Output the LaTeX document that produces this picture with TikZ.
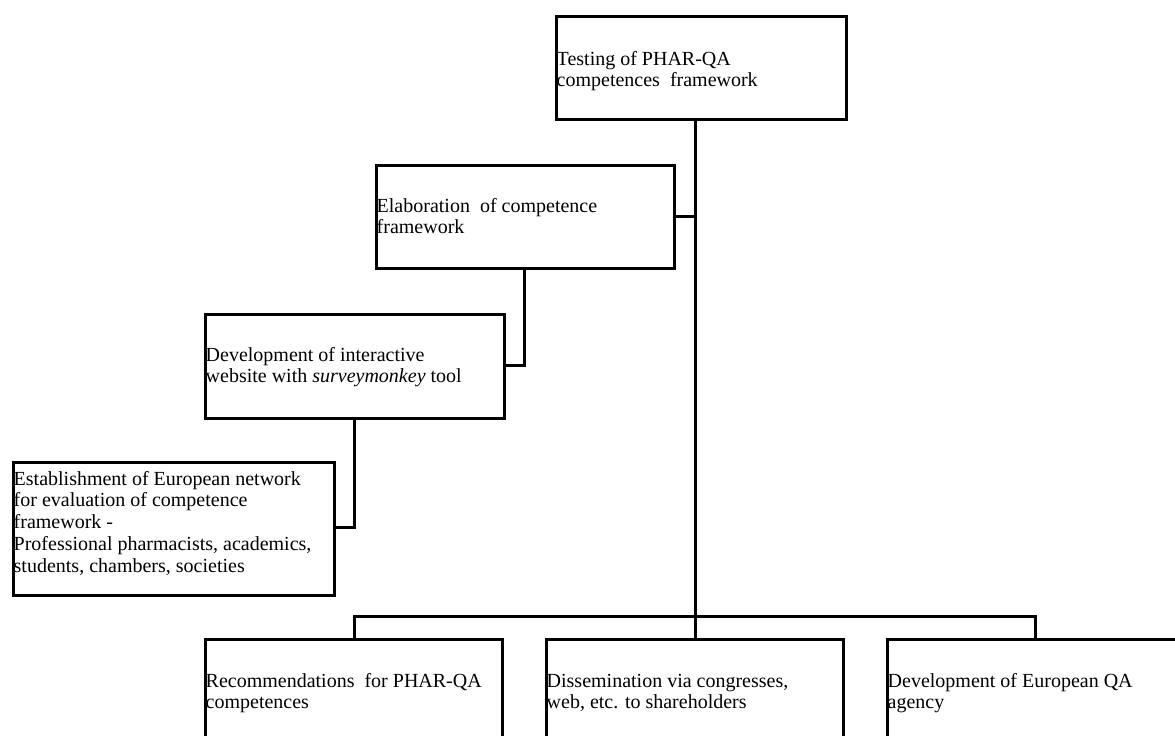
\documentclass[tikz,border=0pt]{standalone}
\usepackage{fontspec}
\setmainfont{Liberation Serif}
\begin{document}
\begin{tikzpicture}[x=1pt,y=-1pt,
  box/.style={draw=black, line width=2.8pt, rectangle, inner sep=0pt, anchor=north west},
  txt/.style={anchor=north west, inner sep=0pt, align=left, font=\fontsize{20}{21.5}\selectfont},
  linkline/.style={line width=3pt, draw=black}]
\path[use as bounding box] (0,0) rectangle (1175,736);
\clip (0,0) rectangle (1175,736);
% boxes
\node[box, minimum width=290pt, minimum height=103pt] (top) at (555,15) {};
\node[box, minimum width=298pt, minimum height=103pt] (elab) at (375,164) {};
\node[box, minimum width=299pt, minimum height=104pt] (dev) at (204,313) {};
\node[box, minimum width=321pt, minimum height=133pt] (est) at (12,461) {};
\node[box, minimum width=297pt, minimum height=130pt] (rec) at (204,638) {};
\node[box, minimum width=297pt, minimum height=130pt] (diss) at (545,638) {};
\node[box, minimum width=297pt, minimum height=130pt] (agency) at (886,638) {};
% texts
\node[txt] (topT) at (556.5,50) {\strut Testing of PHAR-QA\\competences\ \ framework};
\node[txt] (elabT) at (376.5,197) {\strut Elaboration\ \ of competence\\framework};
\node[txt] (devT) at (205.5,346) {\strut Development of interactive\\website with \textit{surveymonkey} tool};
\node[txt] (estT) at (13.5,470) {\strut Establishment of European network\\for evaluation of competence\\framework -\\[1pt]Professional pharmacists, academics,\\students, chambers, societies};
\node[txt] (recT) at (205.5,672) {\strut Recommendations\ \ for PHAR-QA\\competences};
\node[txt] (dissT) at (546.5,672) {\strut Dissemination via congresses,\\web, etc. to shareholders};
\node[txt] (agencyT) at (887.5,672) {\strut Development of European QA\\agency};
% connectors
\coordinate (hub) at (695,616);
\coordinate (j1) at (524,365);
\coordinate (j2) at (354,527);
\draw[linkline] (top.south -| hub) -- (hub);
\draw[linkline] (elab.east |- 0,216) -- (hub |- 0,216);
\draw[linkline] (elab.south -| j1) -- (j1) -- (dev.east |- j1);
\draw[linkline] (dev.south -| j2) -- (j2) -- (est.east |- j2);
\draw[linkline] (rec.north -| 354,0) |- (hub) -| (agency.north -| 1035,0);
\draw[linkline] (hub) -- (hub |- diss.north);
\end{tikzpicture}
\end{document}
